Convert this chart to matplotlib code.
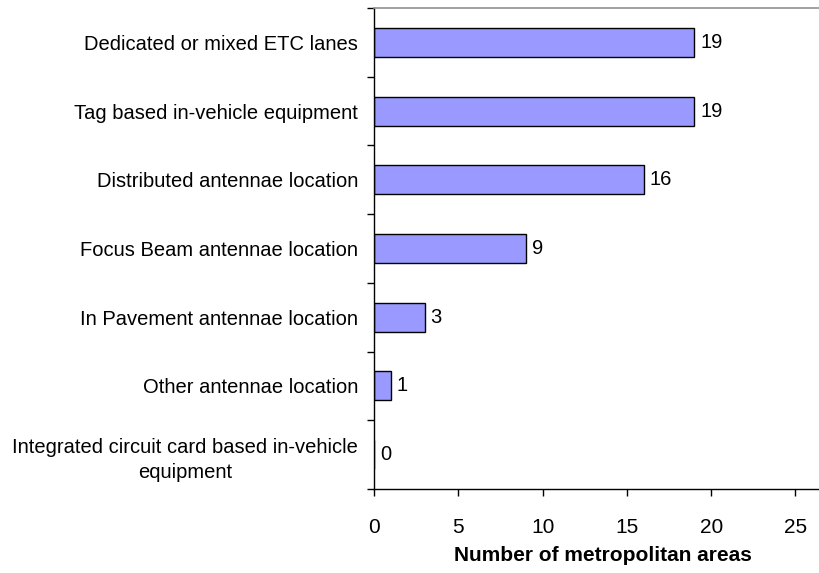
import matplotlib
matplotlib.use("Agg")
import matplotlib.pyplot as plt
import numpy as np

plt.rcParams['font.family'] = ['Liberation Sans', 'DejaVu Sans']

categories = [
    "Dedicated or mixed ETC lanes",
    "Tag based in-vehicle equipment",
    "Distributed antennae location",
    "Focus Beam antennae location",
    "In Pavement antennae location",
    "Other antennae location",
    "Integrated circuit card based in-vehicle\nequipment",
]
counts = [19, 19, 16, 9, 3, 1, 0]
xticks = [0, 5, 10, 15, 20, 25]

fig = plt.figure(figsize=(8.2, 5.73), dpi=100)
ax = fig.add_axes([374 / 820, 1 - 489 / 573, 1 - 374 / 820, (489 - 8) / 573])

y = np.arange(len(categories))
ax.barh(y, counts, height=0.42, color="#9999FF", edgecolor="black", linewidth=1)

for yi, v in zip(y, counts):
    ax.text(v + 0.35, yi, str(v), va="center", ha="left", fontsize=14.5)

ax.set_ylim(len(categories) - 0.5, -0.5)
ax.set_xlim(0, (820 - 374) / 16.86)

ax.set_yticks(y)
ax.set_yticklabels(categories, fontsize=14.5, multialignment="center", linespacing=1.45)
ax.set_yticks(np.arange(-0.5, len(categories)), minor=True)
ax.tick_params(axis="y", which="major", length=0, pad=11.5)
ax.tick_params(axis="y", which="minor", length=5, width=1, direction="out")

ax.set_xticks(xticks)
ax.tick_params(axis="x", length=5, width=1, direction="out", labelsize=15, pad=16)
ax.set_xlabel("Number of metropolitan areas", fontsize=15, fontweight="bold")
# axis runs past the right edge, so centre the label by hand
ax.xaxis.set_label_coords((603 - 374) / 446, -0.118)

ax.spines["right"].set_visible(False)
ax.spines["top"].set_color("#909090")
ax.spines["top"].set_linewidth(1.2)
for s in ("left", "bottom"):
    ax.spines[s].set_color("black")
    ax.spines[s].set_linewidth(1)

fig.savefig("out.png", dpi=100)
